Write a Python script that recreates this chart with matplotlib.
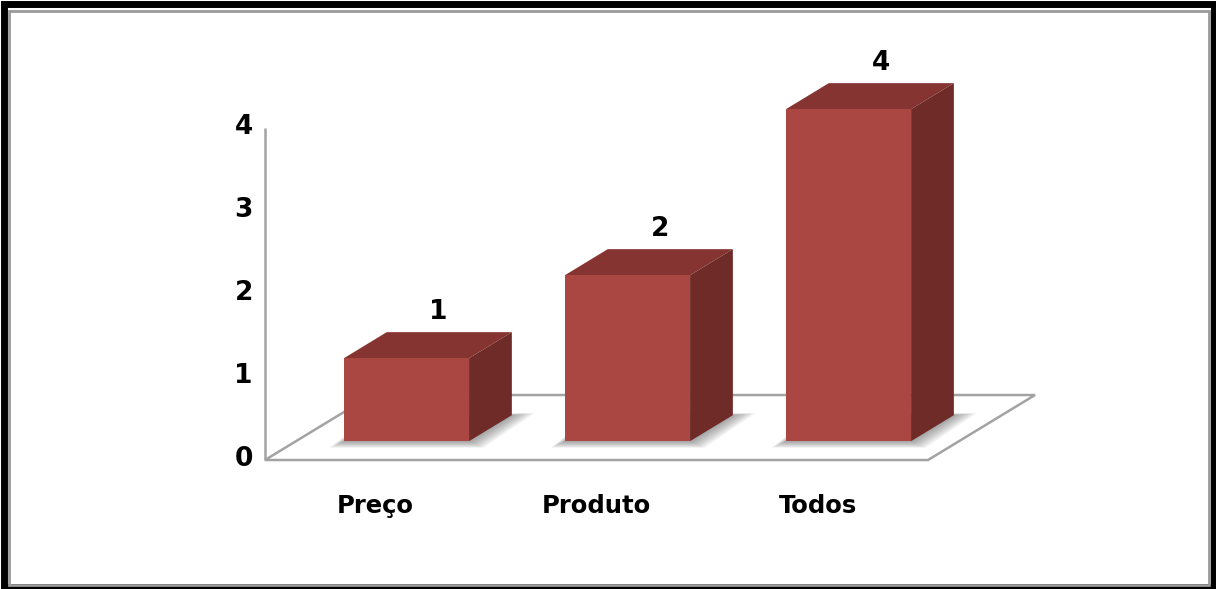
import matplotlib.pyplot as plt
from matplotlib.patches import Polygon, Rectangle

# Survey answers per category
categories = ["Preço", "Produto", "Todos"]
values = [1, 2, 4]
y_ticks = [0, 1, 2, 3, 4]

W, H = 1216, 589
fig = plt.figure(figsize=(W / 100, H / 100), dpi=100)
fig.patch.set_facecolor("white")
ax = fig.add_axes([0, 0, 1, 1])
ax.set_xlim(-1.699, 3.803)
ax.set_ylim(-1.554, 5.542)
ax.axis("off")

# oblique projection parameters (depth of the floor, depth slice of bars)
DX, DY = 0.484, 0.783
F0, F1 = 0.29, 0.69
HW = 0.283
x0, x1 = -0.5, len(categories) - 0.5
ymax = max(y_ticks)

grid = "#a3a3a3"
front_c = "#ab4743"
top_c = "#853431"
side_c = "#6e2b28"
font = "DejaVu Sans"

# floor and wall
ax.add_patch(Polygon([(x0, 0), (x1, 0), (x1 + DX, DY), (x0 + DX, DY)],
                     closed=True, fill=False, ec=grid, lw=1.8, zorder=1))
ax.plot([x0, x0], [0, ymax], color=grid, lw=1.8, zorder=1,
        solid_capstyle="butt")

bx, by = (F1 - F0) * DX, (F1 - F0) * DY
fy = F0 * DY
for i, v in enumerate(values):
    fx = i + F0 * DX
    # soft shadow on the floor
    for k in range(1, 9):
        ex = 0.008 * k
        ey = 0.010 * k
        ax.add_patch(Polygon([(fx - HW - ex, fy - ey), (fx + HW + ex, fy - ey),
                              (fx + HW + bx + ex * 1.6, fy + by + ey * 0.3),
                              (fx - HW + bx - ex, fy + by + ey * 0.3)],
                             closed=True, fc="#444444", ec="none", alpha=0.07,
                             zorder=2))
    # front face
    ax.add_patch(Rectangle((fx - HW, fy), 2 * HW, v, fc=front_c, ec="none",
                           zorder=4))
    # top face
    ax.add_patch(Polygon([(fx - HW, fy + v), (fx + HW, fy + v),
                          (fx + HW + bx, fy + v + by), (fx - HW + bx, fy + v + by)],
                         closed=True, fc=top_c, ec="none", zorder=3))
    # side face
    ax.add_patch(Polygon([(fx + HW, fy), (fx + HW + bx, fy + by),
                          (fx + HW + bx, fy + v + by), (fx + HW, fy + v)],
                         closed=True, fc=side_c, ec="none", zorder=3))
    # value label
    ax.text(fx + 0.75 * bx, fy + v + by + 0.24, f"{v}", ha="center",
            va="center", fontsize=19, fontweight="bold", family=font,
            color="black", zorder=5)
    # category label
    ax.text(i, -0.55, categories[i], ha="center", va="center", fontsize=17.5,
            fontweight="bold", family=font, color="black")

for t in y_ticks:
    ax.text(x0 - 0.055, t + 0.01, str(t), ha="right", va="center",
            fontsize=19, fontweight="bold", family=font, color="black")

# double frame around the chart
def frame(left, bottom, right, top, color, lw):
    fig.add_artist(Rectangle((left / W, bottom / H), (right - left) / W,
                             (top - bottom) / H, transform=fig.transFigure,
                             fill=False, ec=color, lw=lw))

frame(3.5, 2.5, 1213.5, 585.5, "black", 5)
frame(9, 4.5, 1209, 578, "#9a9a9a", 2)

fig.savefig("out.png", dpi=100)
